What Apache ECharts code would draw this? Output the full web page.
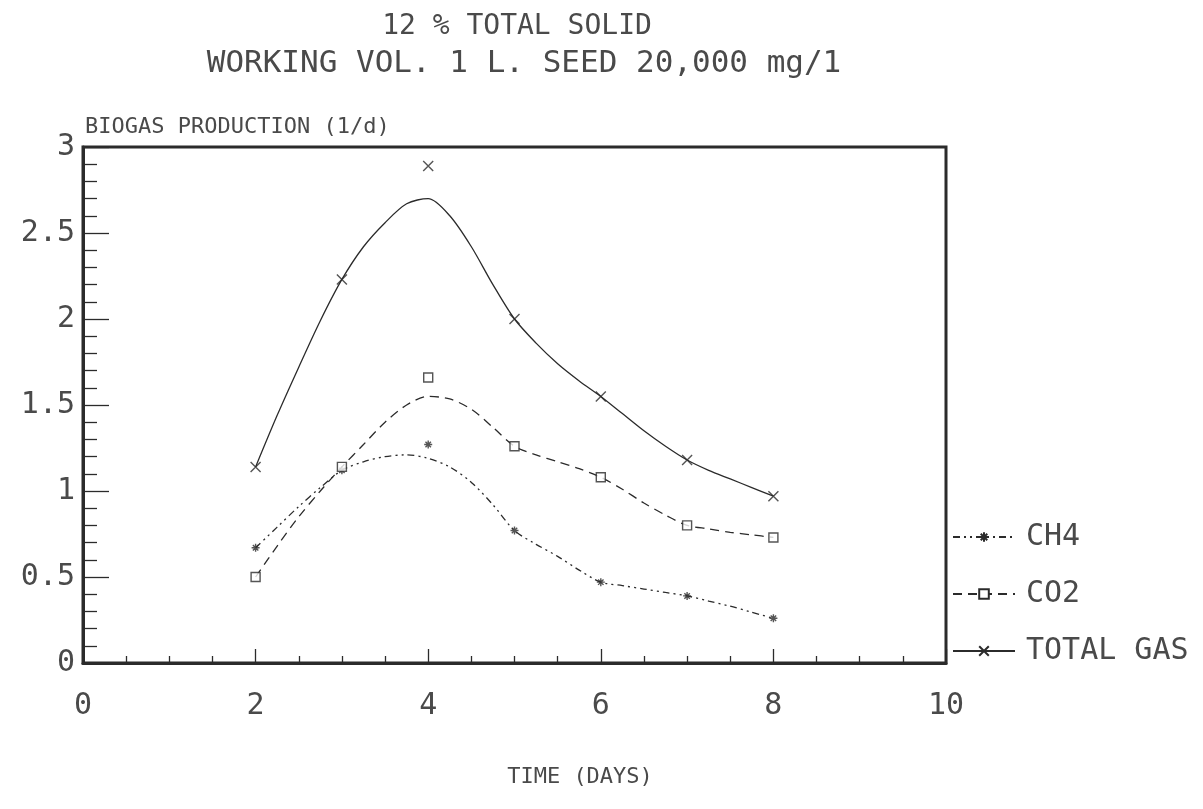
<!DOCTYPE html>
<html>
<head>
<meta charset="utf-8">
<title>Biogas production</title>
<script src="https://cdn.jsdelivr.net/npm/echarts@6/dist/echarts.min.js"></script>
<style>
  html, body { margin: 0; padding: 0; background: #fff; }
  #chart { width: 1203px; height: 809px; }
</style>
</head>
<body>
<div id="chart"></div>
<script>
// Measured points (day, l/d)
const days = [2, 3, 4, 5, 6, 7, 8];
const ch4Points = [0.67, 1.12, 1.27, 0.77, 0.47, 0.39, 0.26];
const co2Points = [0.50, 1.14, 1.66, 1.26, 1.08, 0.80, 0.73];
const totalPoints = [1.14, 2.23, 2.89, 2.00, 1.55, 1.18, 0.97];

// Fitted trend curves, sampled every quarter day
const curveDays = [2, 2.25, 2.5, 2.75, 3, 3.25, 3.5, 3.75, 4, 4.25, 4.5, 4.75, 5,
                   5.25, 5.5, 5.75, 6, 6.25, 6.5, 6.75, 7, 7.25, 7.5, 7.75, 8];
const ch4Curve = [0.67, 0.79, 0.91, 1.02, 1.12, 1.17, 1.20, 1.21, 1.19, 1.14, 1.05, 0.92, 0.77,
                  0.69, 0.62, 0.54, 0.47, 0.45, 0.43, 0.41, 0.39, 0.36, 0.33, 0.295, 0.26];
const co2Curve = [0.50, 0.68, 0.85, 1.00, 1.14, 1.27, 1.40, 1.50, 1.55, 1.535, 1.475, 1.37, 1.26,
                  1.21, 1.17, 1.13, 1.08, 1.01, 0.93, 0.86, 0.80, 0.78, 0.76, 0.745, 0.73];
const totalCurve = [1.14, 1.44, 1.72, 1.99, 2.23, 2.42, 2.56, 2.67, 2.70, 2.60, 2.42, 2.20, 2.00,
                    1.86, 1.74, 1.64, 1.55, 1.45, 1.35, 1.26, 1.18, 1.12, 1.07, 1.02, 0.97];

const seriesNames = ['CH4', 'CO2', 'TOTAL GAS'];
const xTicks = [0, 2, 4, 6, 8, 10];
const yTicks = [0, 0.5, 1, 1.5, 2, 2.5, 3];

const FONT = 'DejaVu Sans Mono';
const INK = '#2b2b2b';
const TEXT = '#4a4a4a';

const starPath = 'path://M5,0L5,10M0,5L10,5M1.6,1.6L8.4,8.4M8.4,1.6L1.6,8.4';
const crossPath = 'path://M0,0L10,10M10,0L0,10';

function pairs(xs, ys) { return xs.map((x, i) => [x, ys[i]]); }

const styles = [
  { dash: [7, 4, 2, 4, 2, 4], symbol: starPath, size: 8, fill: INK },
  { dash: [9, 6], symbol: 'rect', size: 9, fill: '#fff' },
  { dash: 'solid', symbol: crossPath, size: 10, fill: 'transparent' }
];
const curves = [ch4Curve, co2Curve, totalCurve].map(c => pairs(curveDays, c));
const points = [ch4Points, co2Points, totalPoints].map(p => pairs(days, p));

const series = [];
seriesNames.forEach((name, i) => {
  const s = styles[i];
  // smooth trend line (also supplies the legend icon)
  series.push({
    name: name,
    type: 'line',
    data: curves[i],
    smooth: 0.3,
    showSymbol: false,
    symbol: s.symbol,
    symbolSize: s.size,
    itemStyle: { color: s.fill, borderColor: INK, borderWidth: 1.3 },
    lineStyle: { color: INK, width: 1.3, type: s.dash },
    silent: true,
    z: 2
  });
  // measured values
  series.push({
    name: name + ' measured',
    type: 'scatter',
    data: points[i],
    symbol: s.symbol,
    symbolSize: s.size,
    itemStyle: { color: s.fill, borderColor: INK, borderWidth: 1.4 },
    silent: true,
    z: 3
  });
});

const chart = echarts.init(document.getElementById('chart'), null, { renderer: 'canvas' });
chart.setOption({
  animation: false,
  backgroundColor: '#fff',
  textStyle: { fontFamily: FONT },
  title: [
    {
      text: '12 % TOTAL SOLID',
      left: 512, top: 8, textAlign: 'center',
      textStyle: { fontFamily: FONT, fontSize: 28, fontWeight: 'normal', color: TEXT }
    },
    {
      text: 'WORKING VOL. 1 L. SEED 20,000 mg/1',
      left: 519, top: 43, textAlign: 'center',
      textStyle: { fontFamily: FONT, fontSize: 31, fontWeight: 'normal', color: TEXT }
    },
    {
      text: 'TIME (DAYS)',
      left: 575, top: 761, textAlign: 'center',
      textStyle: { fontFamily: FONT, fontSize: 22, fontWeight: 'normal', color: TEXT }
    }
  ],
  legend: {
    data: seriesNames,
    orient: 'vertical',
    left: 952, top: 522,
    itemWidth: 62, itemHeight: 12, itemGap: 27,
    selectedMode: false,
    padding: 0,
    textStyle: { fontFamily: FONT, fontSize: 30, lineHeight: 30, color: TEXT, padding: [0, 0, 0, 6] }
  },
  grid: {
    left: 83, right: 257, top: 147, bottom: 146,
    show: true, borderColor: INK, borderWidth: 3, backgroundColor: 'transparent'
  },
  xAxis: {
    type: 'value', min: xTicks[0], max: xTicks[xTicks.length - 1], interval: 2,
    axisLine: { lineStyle: { color: INK, width: 3 } },
    axisTick: { inside: true, length: 14, lineStyle: { color: INK, width: 1.3 } },
    minorTick: { show: true, splitNumber: 4, length: 7, lineStyle: { color: INK, width: 1.3 } },
    splitLine: { show: false },
    axisLabel: { margin: 28, fontFamily: FONT, fontSize: 30, color: TEXT }
  },
  yAxis: {
    type: 'value', min: yTicks[0], max: yTicks[yTicks.length - 1], interval: 0.5,
    name: 'BIOGAS PRODUCTION (1/d)',
    nameLocation: 'end', nameGap: 9,
    nameTextStyle: { align: 'left', verticalAlign: 'bottom', fontFamily: FONT, fontSize: 22, color: TEXT, padding: [0, 0, 0, 2] },
    axisLine: { lineStyle: { color: INK, width: 3 } },
    axisTick: { inside: true, length: 26, lineStyle: { color: INK, width: 1.3 } },
    minorTick: { show: true, splitNumber: 5, length: 14, lineStyle: { color: INK, width: 1.3 } },
    splitLine: { show: false },
    axisLabel: { margin: 8, fontFamily: FONT, fontSize: 30, color: TEXT }
  },
  series: series
});
</script>
</body>
</html>
